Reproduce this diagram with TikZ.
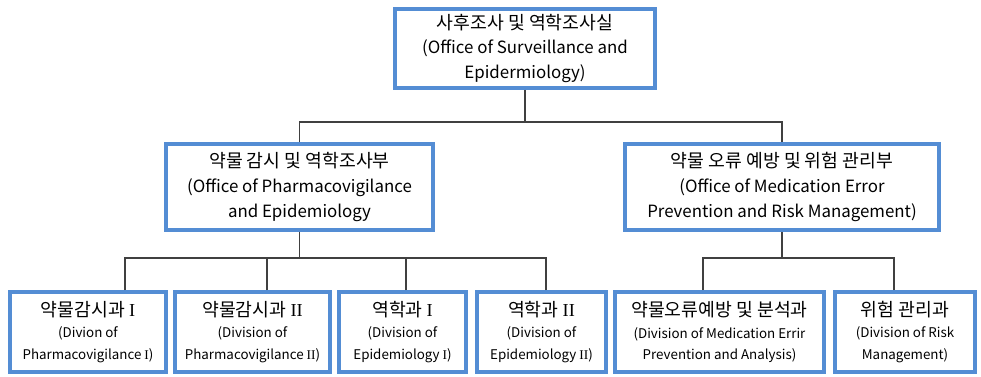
\documentclass[tikz,border=0pt]{standalone}
\usepackage{fontspec}
\setmainfont{Noto Sans CJK KR}
\newfontfamily\romano{Liberation Serif}
\usetikzlibrary{positioning,calc}
\definecolor{OrgBlue}{RGB}{84,141,212}
\definecolor{OrgLine}{RGB}{64,64,64}
\def\px{0.025cm}
\newcommand\hangul{\fontsize{13}{17}\selectfont}
\newcommand\latim{\fontsize{9.5}{14}\selectfont}
\tikzset{
  bloco/.style={draw=OrgBlue, fill=white, line width=2.6pt, align=center,
                inner sep=2pt, font=\fontsize{12}{17.5}\selectfont},
  blocodiv/.style={bloco, minimum height=80*\px, font=\fontsize{13}{15.5}\selectfont},
  ligacao/.style={draw=OrgLine, line width=0.9pt},
}
\begin{document}
\begin{tikzpicture}[x=\px, y=-\px]
  \useasboundingbox (0,0) rectangle (981,376);

  % Nivel 1
  \node[bloco, minimum width=260*\px, minimum height=79*\px] (sala) at (525,48.5)
    {{\hangul 사후조사 및 역학조사실}\\(Office of Surveillance and\\Epidermiology)};

  % Nivel 2
  \node[bloco, minimum width=267*\px, minimum height=86*\px] (farmaco) at (299.5,187)
    {{\hangul 약물 감시 및 역학조사부}\\(Office of Pharmacovigilance\\and Epidemiology};
  \node[bloco, minimum width=314*\px, minimum height=86*\px] (erro) at (782,187)
    {{\hangul 약물 오류 예방 및 위험 관리부}\\(Office of Medication Error\\Prevention and Risk Management)};

  % Nivel 3
  \node[blocodiv, minimum width=156*\px] (div1) at (88,332)
    {약물감시과 {\romano I}\\{\latim (Divion of}\\{\latim Pharmacovigilance {\romano I})}};
  \node[blocodiv, minimum width=155*\px] (div2) at (252.5,332)
    {약물감시과 {\romano II}\\{\latim (Division of}\\{\latim Pharmacovigilance {\romano II})}};
  \node[blocodiv, minimum width=127*\px] (div3) at (402.5,332)
    {역학과 {\romano I}\\{\latim (Division of}\\{\latim Epidemiology {\romano I})}};
  \node[blocodiv, minimum width=129*\px] (div4) at (541.5,332)
    {역학과 {\romano II}\\{\latim (Division of}\\{\latim Epidemiology {\romano II})}};
  \node[blocodiv, minimum width=209*\px] (div5) at (719.5,332)
    {약물오류예방 및 분석과\\{\latim (Division of Medication Errir}\\{\latim Prevention and Analysis)}};
  \node[blocodiv, minimum width=140*\px] (div6) at (905,332)
    {위험 관리과\\{\latim (Division of Risk}\\{\latim Management)}};

  % Ligacoes
  \coordinate (bus1) at (525,122);
  \draw[ligacao] (sala.south) -- (bus1);
  \draw[ligacao] (farmaco.north) |- (bus1) -| (erro.north);

  \coordinate (bus2) at (299.5,258);
  \draw[ligacao] (farmaco.south) -- (bus2);
  \foreach \b/\dx in {div1/37,div2/14.5,div3/3.5,div4/4.5}
    \draw[ligacao] ([xshift=\dx*\px]\b.north) |- (bus2);

  \coordinate (bus3) at (782,258);
  \draw[ligacao] (erro.south) -- (bus3);
  \foreach \b/\dx in {div5/-16.5,div6/-11}
    \draw[ligacao] ([xshift=\dx*\px]\b.north) |- (bus3);
\end{tikzpicture}
\end{document}
